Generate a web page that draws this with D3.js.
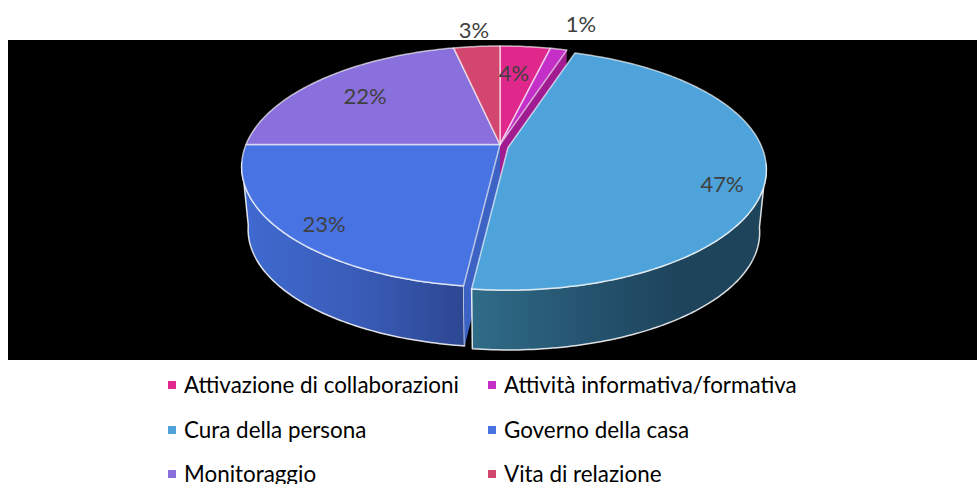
<!DOCTYPE html>
<html><head><meta charset="utf-8">
<script src="https://cdn.jsdelivr.net/npm/d3@7"></script>
<style>html,body{margin:0;padding:0;background:#fff;overflow:hidden}svg{display:block}text{font-family:Lato,"Open Sans",sans-serif}</style>
</head><body><svg id="c" width="977" height="484"></svg>
<script>
const categories = ["Attivazione di collaborazioni","Attività informativa/formativa","Cura della persona","Governo della casa","Monitoraggio","Vita di relazione"];
const values = [3.75,1.25,46.87,23.13,21.55,3.45];
const labels = ["4%","1%","47%","23%","22%","3%"];
const colors = ["#e0288c","#c42fc8","#4da3da","#4873e2","#8970dc","#d24670"];
const wallColors = ["#a01c64","#a01c90","#2d6a85","#3f6ad0","#6a55b0","#a03555"];

// layout
const labelXY = [[514,73],[581,24],[722,184],[324,224],[365,96],[474,30]];
const legendXY = [[172,385],[492,385],[172,430],[492,430],[172,474],[492,474]];
const apex = [500,144.5], a = 116.5, b = 254, k = 0.1826;
const explodeIdx = 2, explode = [8,3];
const shrink = 0.975, vanishY = 2688;

const svg = d3.select("#c");
const defs = svg.append("defs");
svg.append("rect").attr("x",8).attr("y",40).attr("width",969).attr("height",320).attr("fill","#000");

const pie = d3.pie().sort(null).value(d=>d);
const arcs = pie(values);
const sx = d3.scaleLinear().domain([-1,1]).range([-b,b]);
const sy = d3.scaleLinear().domain([-1,1]).range([-a,a]);

function rimPoint(theta,r=1,off=[0,0]){
  const X=r*Math.sin(theta), Y=-r*Math.cos(theta), w=1-k*Y;
  return [apex[0]+sx(X)/w+off[0], apex[1]+sy(Y)/w+off[1]];
}
function low(p){ return [apex[0]+shrink*(p[0]-apex[0]), vanishY+shrink*(p[1]-vanishY)]; }
const line = d3.line();
function rim(s,off){ const n=Math.max(4,Math.ceil((s.endAngle-s.startAngle)*60));
  return d3.range(n+1).map(i=>rimPoint(s.startAngle+(s.endAngle-s.startAngle)*i/n,1,off)); }

const stroke="#ffffff";
function grad(id,x1,x2,stops){
  const g=defs.append("linearGradient").attr("id",id).attr("gradientUnits","userSpaceOnUse")
    .attr("x1",x1).attr("x2",x2).attr("y1",0).attr("y2",0);
  stops.forEach(s=>g.append("stop").attr("offset",s[0]).attr("stop-color",s[1]));
  return `url(#${id})`;
}
const wallFill = {
  2: grad("w2",472,680,[[0,"#2f6c88"],[0.55,"#25536f"],[1,"#1e445c"]]),
  3: grad("w3",242,470,[[0,"#3f6ad0"],[0.5,"#3a5cb8"],[1,"#2c4690"]])
};
function drawWall(s,i,off){
  const r=rim(s,off).filter(p=>p[1]>=apex[1]+off[1]+16);
  if(r.length<2) return;
  const poly=r.concat(r.map(low).reverse());
  svg.append("path").attr("d",line(poly)+"Z").attr("fill",wallFill[i]||wallColors[i])
    .attr("stroke",stroke).attr("stroke-opacity",.85).attr("stroke-width",1.5).attr("stroke-linejoin","round");
}
function drawFace(theta,fill){
  const p=rimPoint(theta), q=low(p), c=low(apex);
  svg.append("path").attr("d",line([apex,p,q,c])+"Z").attr("fill",fill);
}
function drawTop(s,i,off){
  const c=[apex[0]+off[0],apex[1]+off[1]];
  svg.append("path").attr("d",line([c,...rim(s,off)])+"Z").attr("fill",colors[i])
    .attr("stroke",stroke).attr("stroke-opacity",.65).attr("stroke-width",1.5).attr("stroke-linejoin","round");
}
const zero=[0,0];
arcs.forEach((s,i)=>{ if(i!==explodeIdx) drawWall(s,i,zero); });
drawFace(arcs[explodeIdx].startAngle,wallColors[1]);
drawFace(arcs[explodeIdx].endAngle,"#3c62c4");
arcs.forEach((s,i)=>{ if(i!==explodeIdx) drawTop(s,i,zero); });
drawWall(arcs[explodeIdx],explodeIdx,explode);
drawTop(arcs[explodeIdx],explodeIdx,explode);

svg.selectAll("text.lab").data(labels).join("text").attr("class","lab")
  .attr("x",(d,i)=>labelXY[i][0]).attr("y",(d,i)=>labelXY[i][1]).attr("dy","0.36em")
  .attr("text-anchor","middle").attr("font-size",22).attr("fill","#404040").text(d=>d);

const leg=svg.selectAll("g.leg").data(categories).join("g").attr("class","leg")
  .attr("transform",(d,i)=>`translate(${legendXY[i][0]},${legendXY[i][1]})`);
leg.append("rect").attr("x",-4).attr("y",-4).attr("width",8).attr("height",8).attr("fill",(d,i)=>colors[i]);
leg.append("text").attr("x",12).attr("dy","0.36em").attr("font-size",22.4).attr("fill","#000").text(d=>d);
</script></body></html>
